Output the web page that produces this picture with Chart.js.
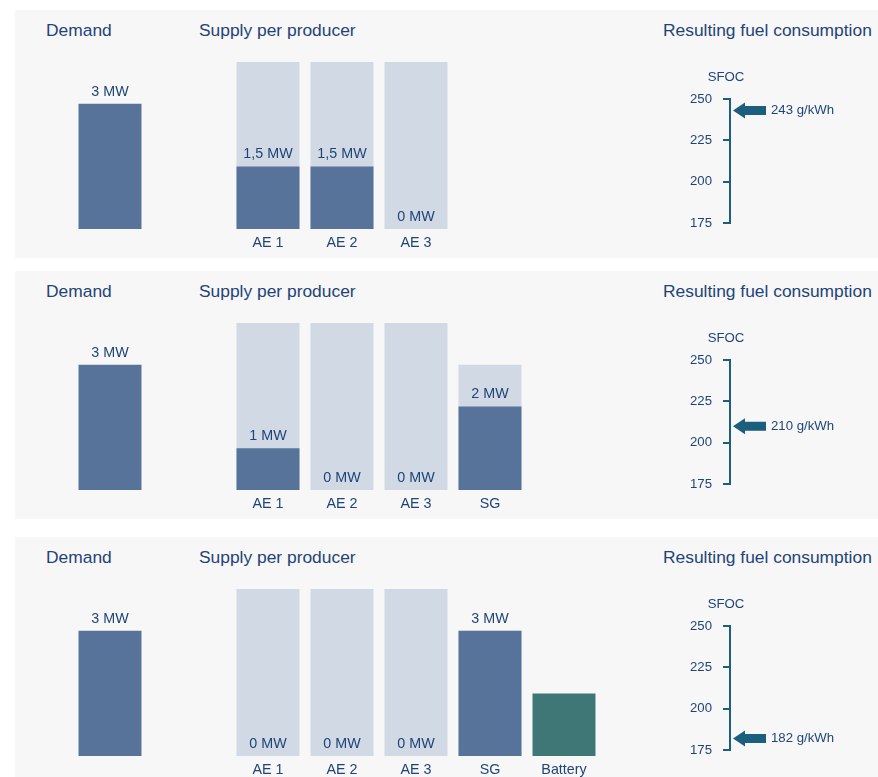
<!DOCTYPE html>
<html>
<head>
<meta charset="utf-8">
<script src="https://cdn.jsdelivr.net/npm/chart.js@4.4.1/dist/chart.umd.min.js"></script>
<style>
  body { margin: 0; background: #ffffff; font-family: "Liberation Sans", Arial, sans-serif; overflow: hidden; }
  .panel { position: absolute; left: 15px; width: 863px; height: 248px; background: #f7f7f7; }
  .titulo { position: absolute; top: 10px; line-height: 20px; font-size: 17.4px; color: #1f4478; white-space: nowrap; }
  canvas { position: absolute; }
</style>
</head>
<body>
<script>
// Datos de los tres escenarios
const panelTops = [10, 271, 537];
const productores = [
  ['AE 1', 'AE 2', 'AE 3'],
  ['AE 1', 'AE 2', 'AE 3', 'SG'],
  ['AE 1', 'AE 2', 'AE 3', 'SG', 'Battery']
];
const demandaMW = [3, 3, 3];
const capacidadMW = [
  [4, 4, 4],
  [4, 4, 4, 3],
  [4, 4, 4, 3, null]
];
const suministroMW = [
  [1.5, 1.5, 0],
  [1, 0, 0, 2],
  [0, 0, 0, 3, null]
];
const bateriaMW = [
  [null, null, null],
  [null, null, null, null],
  [null, null, null, null, 1.5]
];
const sfoc = [243, 210, 182];
const sfocTicks = [175, 200, 225, 250];

const AZUL_TEXTO = '#1f4478';
const AZUL_BARRA = '#57739a';
const GRIS_BARRA = '#d1d9e5';
const VERDE_BAT = '#3e7775';
const AZUL_EJE = '#1b5e7d';
const FUENTE = '"Liberation Sans", Arial, sans-serif';

// Etiquetas "x MW" encima de cada barra
const etiquetasMW = {
  id: 'etiquetasMW',
  afterDatasetsDraw(chart) {
    const ctx = chart.ctx;
    ctx.save();
    ctx.font = '14.3px ' + FUENTE;
    ctx.fillStyle = AZUL_TEXTO;
    ctx.textAlign = 'center';
    ctx.textBaseline = 'middle';
    chart.data.datasets.forEach((ds, i) => {
      if (!ds.conEtiqueta) return;
      chart.getDatasetMeta(i).data.forEach((bar, j) => {
        const v = ds.data[j];
        if (v === null || v === undefined) return;
        ctx.fillText(String(v).replace('.', ',') + ' MW', bar.x, bar.y - 12);
      });
    });
    ctx.restore();
  }
};

// Flecha del SFOC resultante
const flechaSFOC = {
  id: 'flechaSFOC',
  afterDraw(chart) {
    const ctx = chart.ctx;
    const esc = chart.scales.y;
    const valor = chart.data.datasets[0].data[0].y;
    const y = esc.getPixelForValue(valor);
    const x0 = esc.right + 3;
    ctx.save();
    ctx.fillStyle = AZUL_EJE;
    ctx.beginPath();
    ctx.moveTo(x0, y);
    ctx.lineTo(x0 + 12, y - 8);
    ctx.lineTo(x0 + 12, y - 4.5);
    ctx.lineTo(x0 + 33, y - 4.5);
    ctx.lineTo(x0 + 33, y + 4.5);
    ctx.lineTo(x0 + 12, y + 4.5);
    ctx.lineTo(x0 + 12, y + 8);
    ctx.closePath();
    ctx.fill();
    ctx.font = '13.2px ' + FUENTE;
    ctx.fillStyle = AZUL_TEXTO;
    ctx.textBaseline = 'middle';
    ctx.fillText(valor + ' g/kWh', x0 + 38, y);
    // titulo del eje
    ctx.textAlign = 'center';
    ctx.fillText('SFOC', esc.right - 4, esc.top - 22);
    ctx.restore();
  }
};

function crearCanvas(panel, left, top, w, h) {
  const c = document.createElement('canvas');
  c.width = w; c.height = h;
  c.style.left = left + 'px'; c.style.top = top + 'px';
  c.style.width = w + 'px'; c.style.height = h + 'px';
  panel.appendChild(c);
  return c.getContext('2d');
}

const basicos = {
  responsive: false,
  animation: false,
  devicePixelRatio: 1,
  plugins: { legend: { display: false }, tooltip: { enabled: false } }
};

panelTops.forEach((top, p) => {
  const panel = document.createElement('div');
  panel.className = 'panel';
  panel.style.top = top + 'px';
  document.body.appendChild(panel);

  [['Demand', 31], ['Supply per producer', 184], ['Resulting fuel consumption', 648]].forEach(([t, x]) => {
    const d = document.createElement('div');
    d.className = 'titulo';
    d.style.left = x + 'px';
    d.textContent = t;
    panel.appendChild(d);
  });

  // Demanda
  new Chart(crearCanvas(panel, 58, 30, 74, 189), {
    type: 'bar',
    data: {
      labels: ['Demand'],
      datasets: [{ data: [demandaMW[p]], backgroundColor: AZUL_BARRA, conEtiqueta: true }]
    },
    options: {
      ...basicos,
      layout: { padding: { top: 22, bottom: 0, left: 0, right: 0 } },
      datasets: { bar: { categoryPercentage: 1, barPercentage: 0.851 } },
      scales: {
        x: { display: false },
        y: { display: false, min: 0, max: 4 }
      }
    },
    plugins: [etiquetasMW]
  });

  // Suministro por productor
  const n = productores[p].length;
  new Chart(crearCanvas(panel, 216, 30, n * 74, 215), {
    type: 'bar',
    data: {
      labels: productores[p],
      datasets: [
        { data: suministroMW[p], backgroundColor: AZUL_BARRA, grouped: false, order: 1, conEtiqueta: true },
        { data: bateriaMW[p], backgroundColor: VERDE_BAT, grouped: false, order: 1 },
        { data: capacidadMW[p], backgroundColor: GRIS_BARRA, grouped: false, order: 2 }
      ]
    },
    options: {
      ...basicos,
      layout: { padding: { top: 22, bottom: 0, left: 0, right: 0 } },
      datasets: { bar: { categoryPercentage: 1, barPercentage: 0.851 } },
      scales: {
        x: {
          grid: { display: false, drawTicks: false },
          border: { display: false },
          ticks: { color: AZUL_TEXTO, padding: 5, font: { size: 14.3, family: FUENTE } },
          afterFit: (eje) => { eje.height = 26; }
        },
        y: { display: false, min: 0, max: 4 }
      }
    },
    plugins: [etiquetasMW]
  });

  // Consumo de combustible (SFOC)
  new Chart(crearCanvas(panel, 665, 40, 190, 192), {
    type: 'scatter',
    data: { datasets: [{ data: [{ x: 0, y: sfoc[p] }], pointRadius: 0 }] },
    options: {
      ...basicos,
      layout: { padding: { top: 49, bottom: 10, left: 0, right: 0 } },
      scales: {
        x: { display: false, min: 0, max: 1 },
        y: {
          min: 175, max: 250,
          afterBuildTicks: (eje) => { eje.ticks = sfocTicks.map(v => ({ value: v })); },
          afterFit: (eje) => { eje.width = 50; },
          grid: { drawOnChartArea: false, drawTicks: true, tickLength: 7, color: AZUL_EJE, lineWidth: 2 },
          border: { display: true, color: AZUL_EJE, width: 2 },
          ticks: { color: AZUL_TEXTO, padding: 11, font: { size: 13.2, family: FUENTE } }
        }
      }
    },
    plugins: [flechaSFOC]
  });
});
</script>
</body>
</html>
